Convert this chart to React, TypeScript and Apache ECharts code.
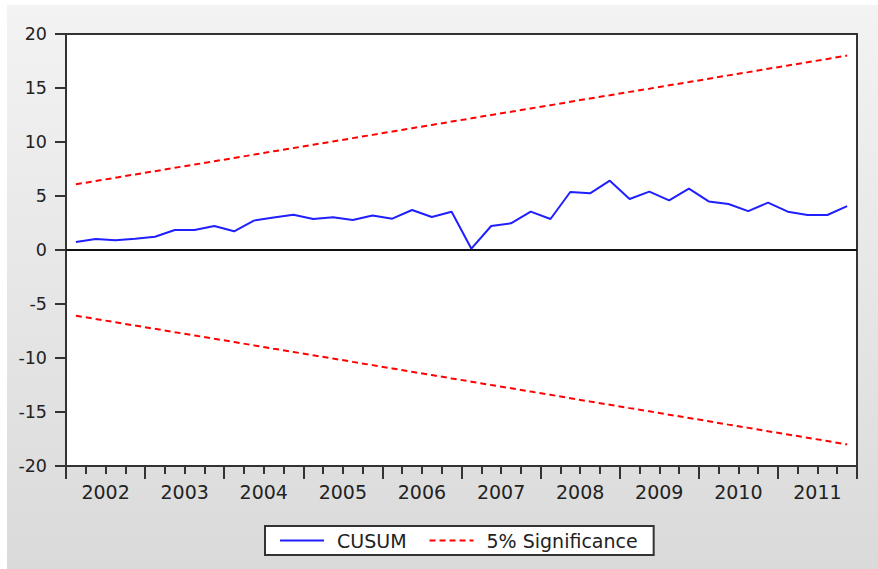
import React, { useEffect, useRef } from "react";
import * as echarts from "echarts";

// Quarterly observations, 2002Q1 .. 2011Q4
const years = ["2002", "2003", "2004", "2005", "2006", "2007", "2008", "2009", "2010", "2011"];
const quarters: string[] = [];
for (const y of years) {
  for (const q of ["Q1", "Q2", "Q3", "Q4"]) quarters.push(y + q);
}

// CUSUM of recursive residuals
const cusum = [
  0.74, 1.02, 0.9, 1.05, 1.23, 1.85, 1.85, 2.22, 1.73, 2.72,
  3.0, 3.27, 2.87, 3.04, 2.78, 3.2, 2.9, 3.7, 3.06, 3.55,
  0.12, 2.22, 2.47, 3.55, 2.87, 5.37, 5.25, 6.42, 4.72, 5.4,
  4.6, 5.68, 4.5, 4.26, 3.6, 4.38, 3.55, 3.24, 3.24, 4.07,
];

// 5% significance bands
const upperBand = [
  6.08, 6.39, 6.69, 7.0, 7.3, 7.61, 7.91, 8.22, 8.52, 8.83,
  9.14, 9.44, 9.75, 10.05, 10.36, 10.66, 10.97, 11.28, 11.58, 11.89,
  12.19, 12.5, 12.8, 13.11, 13.41, 13.72, 14.03, 14.33, 14.64, 14.94,
  15.25, 15.55, 15.86, 16.17, 16.47, 16.78, 17.08, 17.39, 17.69, 18.0,
];
const lowerBand = [
  -6.08, -6.39, -6.69, -7.0, -7.3, -7.61, -7.91, -8.22, -8.52, -8.83,
  -9.14, -9.44, -9.75, -10.05, -10.36, -10.66, -10.97, -11.28, -11.58, -11.89,
  -12.19, -12.5, -12.8, -13.11, -13.41, -13.72, -14.03, -14.33, -14.64, -14.94,
  -15.25, -15.55, -15.86, -16.17, -16.47, -16.78, -17.08, -17.39, -17.69, -18.0,
];

const FONT = "DejaVu Sans";
const INK = "#222222";
const AXIS = "#333333";

export default function App() {
  const ref = useRef<HTMLDivElement>(null);

  useEffect(() => {
    if (!ref.current) return;
    const chart = echarts.init(ref.current, null, { renderer: "svg" });
    const bandStyle = { color: "#ff0000", width: 2, type: [6, 4] as number[] };
    chart.setOption({
      animation: false,
      backgroundColor: new echarts.graphic.LinearGradient(0, 0, 0, 1, [
        { offset: 0, color: "#f3f3f3" },
        { offset: 1, color: "#dadada" },
      ]),
      grid: {
        left: 59,
        top: 29,
        width: 791,
        height: 432,
        show: true,
        backgroundColor: "#ffffff",
        borderColor: AXIS,
        borderWidth: 2,
      },
      legend: {
        data: ["CUSUM", "5% Significance"],
        left: 258,
        top: 521,
        orient: "horizontal",
        backgroundColor: "#ffffff",
        borderColor: AXIS,
        borderWidth: 2,
        borderRadius: 0,
        padding: [5, 16, 5, 14],
        itemWidth: 44,
        itemHeight: 14,
        itemGap: 22,
        itemStyle: { opacity: 0 },
        textStyle: {
          fontFamily: FONT,
          fontSize: 19,
          color: INK,
          padding: [0, 0, 0, 8],
        },
      },
      xAxis: [
        {
          type: "category",
          data: quarters,
          boundaryGap: true,
          position: "bottom",
          axisLine: { show: false, onZero: false },
          axisTick: {
            show: true,
            interval: 0,
            length: 8,
            lineStyle: { color: AXIS, width: 2 },
          },
          axisLabel: { show: false },
          splitLine: { show: false },
        },
        {
          type: "category",
          data: years,
          boundaryGap: true,
          position: "bottom",
          axisLine: { show: true, onZero: false, lineStyle: { color: AXIS, width: 2 } },
          axisTick: {
            show: true,
            interval: 0,
            length: 13,
            lineStyle: { color: AXIS, width: 2 },
          },
          axisLabel: {
            interval: 0,
            margin: 16,
            fontFamily: FONT,
            fontSize: 19,
            color: INK,
          },
          splitLine: { show: false },
        },
      ],
      yAxis: {
        type: "value",
        min: -20,
        max: 20,
        interval: 5,
        axisLine: { show: true, lineStyle: { color: AXIS, width: 2 } },
        axisTick: { show: true, length: 11, lineStyle: { color: AXIS, width: 2 } },
        axisLabel: {
          margin: 19,
          fontFamily: FONT,
          fontSize: 17.5,
          color: INK,
        },
        splitLine: { show: false },
      },
      series: [
        {
          name: "CUSUM",
          type: "line",
          xAxisIndex: 0,
          data: cusum,
          symbol: "none",
          color: "#1f1fff",
          lineStyle: { color: "#1f1fff", width: 2 },
          markLine: {
            silent: true,
            symbol: ["none", "none"],
            label: { show: false },
            lineStyle: { color: "#111111", width: 2, type: "solid" },
            data: [{ yAxis: 0 }],
          },
          z: 3,
        },
        {
          name: "5% Significance",
          type: "line",
          xAxisIndex: 0,
          data: upperBand,
          symbol: "none",
          color: "#ff0000",
          lineStyle: bandStyle,
        },
        {
          name: "5% Significance",
          type: "line",
          xAxisIndex: 0,
          data: lowerBand,
          symbol: "none",
          color: "#ff0000",
          lineStyle: bandStyle,
        },
      ],
    });
    return () => chart.dispose();
  }, []);

  return (
    <div
      ref={ref}
      style={{ position: "absolute", left: 7, top: 5, width: 871, height: 564 }}
    />
  );
}
